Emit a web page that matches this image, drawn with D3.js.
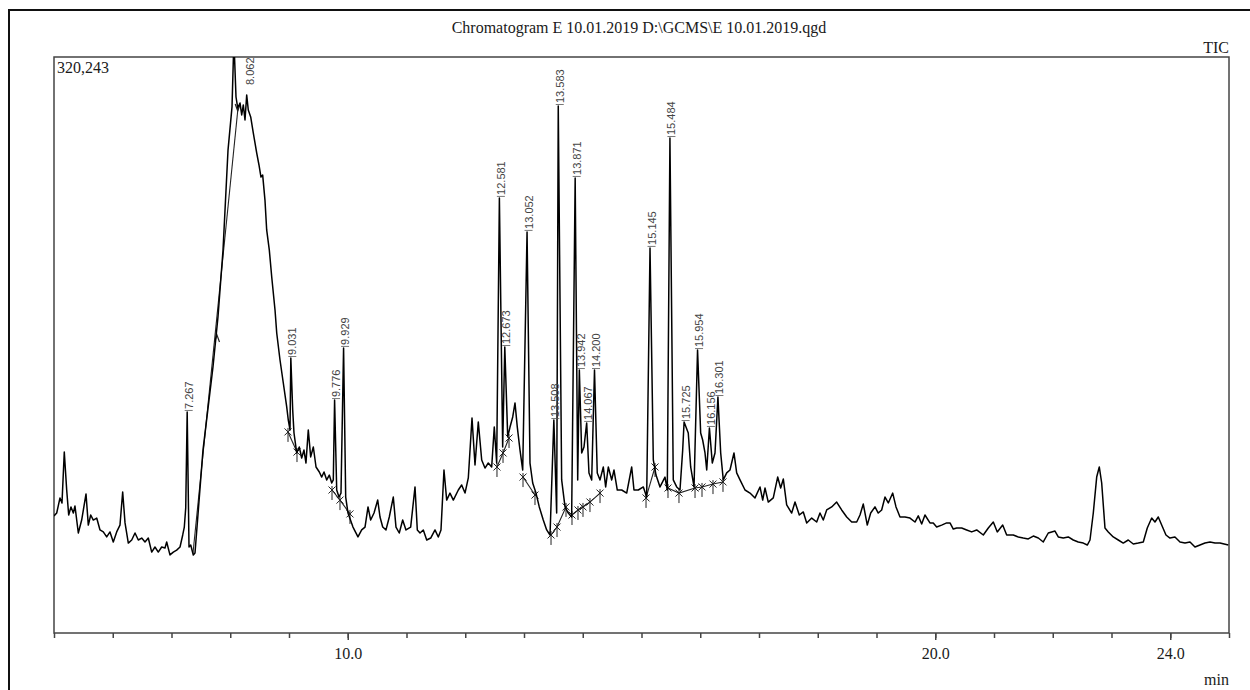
<!DOCTYPE html>
<html>
<head>
<meta charset="utf-8">
<script src="https://cdn.jsdelivr.net/npm/d3@7"></script>
<style>
body{margin:0;background:#fff;}
svg{display:block;}
</style>
</head>
<body>
<script>
// TIC trace: [retention time (min), intensity (x1000 counts)]
const trace = [
[5.000,65.1],[5.046,66.7],[5.102,75.1],[5.136,72.3],[5.175,100.6],[5.216,79.5],[5.250,65.6],[5.289,70.1],[5.329,66.7],[5.357,70.6],
[5.414,55.6],[5.471,62.8],[5.545,77.3],[5.584,60.0],[5.625,65.6],[5.669,62.8],[5.727,63.9],[5.783,57.3],[5.839,56.2],[5.897,53.4],
[5.953,56.2],[6.009,50.6],[6.067,56.2],[6.123,60.0],[6.169,78.4],[6.209,61.2],[6.265,50.0],[6.323,51.7],[6.379,55.6],[6.435,51.7],
[6.493,52.8],[6.549,50.6],[6.605,52.8],[6.663,45.0],[6.719,47.8],[6.775,45.0],[6.833,47.8],[6.889,47.3],[6.918,50.6],[6.974,43.4],
[7.031,45.0],[7.088,46.1],[7.145,47.8],[7.191,54.5],[7.218,58.9],[7.242,69.5],[7.267,122.9],[7.298,47.8],[7.327,48.9],[7.371,43.4],
[7.400,44.5],[7.536,101.7],[7.706,147.9],[7.791,175.7],[7.877,212.9],[7.962,268.5],[8.030,292.5],[8.062,329.7],[8.098,298.0],[8.127,291.9],
[8.166,294.7],[8.195,288.0],[8.222,293.6],[8.251,285.2],[8.280,299.1],[8.307,290.8],[8.348,286.9],[8.392,278.0],[8.450,266.9],[8.489,260.2],
[8.523,253.5],[8.552,254.6],[8.591,240.7],[8.620,224.1],[8.665,212.9],[8.706,197.9],[8.762,179.6],[8.791,166.8],[8.847,151.8],[8.903,139.0],
[8.961,125.7],[8.988,118.4],[9.017,112.9],[9.031,152.9],[9.063,124.0],[9.085,111.2],[9.131,100.1],[9.175,103.4],[9.216,97.3],[9.255,101.7],
[9.289,94.5],[9.328,112.9],[9.369,97.9],[9.414,103.4],[9.460,92.3],[9.516,89.5],[9.557,86.7],[9.596,89.5],[9.642,85.1],[9.686,87.8],
[9.727,83.4],[9.754,85.1],[9.776,129.5],[9.812,79.5],[9.851,75.6],[9.885,77.8],[9.929,158.5],[9.965,75.6],[10.004,66.7],[10.089,58.9],
[10.174,53.4],[10.237,57.3],[10.294,58.9],[10.345,70.1],[10.390,62.8],[10.447,66.7],[10.510,73.9],[10.549,64.5],[10.595,58.9],[10.651,57.3],
[10.707,64.5],[10.775,75.6],[10.821,58.9],[10.877,55.6],[10.935,62.8],[10.991,57.3],[11.071,58.9],[11.145,81.2],[11.184,57.3],[11.230,55.6],
[11.286,57.3],[11.344,51.7],[11.412,52.8],[11.485,57.3],[11.541,53.4],[11.587,57.3],[11.638,90.6],[11.684,73.9],[11.740,77.8],[11.797,73.9],
[11.882,79.5],[11.939,82.3],[11.996,77.8],[12.052,86.2],[12.115,119.5],[12.166,93.4],[12.222,117.3],[12.280,96.2],[12.336,91.7],[12.392,94.5],
[12.450,92.3],[12.494,114.5],[12.535,94.5],[12.581,241.9],[12.637,103.4],[12.673,159.0],[12.723,109.0],[12.762,114.5],[12.808,120.1],[12.847,127.9],
[12.886,114.5],[12.932,101.7],[12.978,90.6],[13.052,223.0],[13.102,94.5],[13.148,83.4],[13.204,77.8],[13.260,70.1],[13.328,62.8],[13.386,57.3],
[13.443,54.5],[13.508,118.4],[13.556,66.7],[13.583,293.0],[13.641,85.1],[13.698,70.1],[13.754,66.7],[13.811,64.5],[13.871,253.0],[13.914,85.1],
[13.942,146.2],[13.982,100.1],[14.021,103.4],[14.067,116.8],[14.106,89.0],[14.152,85.1],[14.200,146.2],[14.247,89.0],[14.294,85.1],[14.350,92.3],
[14.390,81.2],[14.435,92.3],[14.493,85.1],[14.532,90.6],[14.588,79.5],[14.663,79.5],[14.748,77.8],[14.833,92.3],[14.872,79.5],[14.946,79.5],
[15.031,81.2],[15.088,75.6],[15.145,214.1],[15.201,96.2],[15.247,87.8],[15.315,81.2],[15.400,86.7],[15.439,79.5],[15.484,275.2],[15.541,85.1],
[15.599,81.2],[15.655,79.5],[15.701,101.7],[15.725,117.3],[15.796,111.2],[15.837,92.3],[15.894,81.2],[15.954,157.3],[16.007,111.2],[16.041,107.3],
[16.081,100.1],[16.110,90.6],[16.156,114.0],[16.205,94.5],[16.251,100.1],[16.301,131.2],[16.348,100.1],[16.392,85.1],[16.450,89.0],[16.506,90.6],
[16.574,100.1],[16.620,89.0],[16.677,85.1],[16.762,79.5],[16.847,77.8],[16.932,75.1],[17.017,81.2],[17.063,73.9],[17.102,80.6],[17.158,72.8],
[17.243,75.1],[17.318,86.7],[17.369,80.6],[17.414,85.6],[17.471,71.2],[17.556,66.7],[17.613,72.8],[17.686,65.6],[17.754,67.3],[17.812,61.2],
[17.897,63.9],[17.982,61.7],[18.038,66.7],[18.094,62.8],[18.152,68.4],[18.237,70.1],[18.322,72.8],[18.407,68.4],[18.493,64.5],[18.578,61.7],
[18.663,61.7],[18.719,65.6],[18.775,71.7],[18.843,60.0],[18.901,66.7],[18.974,70.1],[19.030,66.7],[19.088,68.4],[19.145,75.6],[19.201,72.3],
[19.276,77.8],[19.332,70.1],[19.400,64.5],[19.485,64.5],[19.570,63.9],[19.655,61.7],[19.711,65.1],[19.769,60.6],[19.825,65.6],[19.910,61.2],
[19.966,61.2],[20.024,58.9],[20.109,60.0],[20.194,61.2],[20.251,61.2],[20.307,57.8],[20.365,58.4],[20.450,58.4],[20.535,57.3],[20.620,56.2],
[20.705,57.3],[20.818,54.5],[20.903,58.4],[20.988,61.7],[21.056,56.2],[21.148,60.0],[21.216,54.5],[21.328,54.5],[21.413,53.4],[21.498,52.8],
[21.583,52.3],[21.669,53.9],[21.754,52.8],[21.839,50.6],[21.924,55.6],[21.982,56.2],[22.038,56.7],[22.094,53.4],[22.179,52.8],[22.264,53.4],
[22.349,51.7],[22.434,50.6],[22.520,50.0],[22.588,48.9],[22.634,51.7],[22.690,66.7],[22.748,86.7],[22.792,92.3],[22.833,83.4],[22.889,58.4],
[22.945,56.2],[23.030,53.4],[23.115,51.7],[23.200,50.0],[23.285,51.7],[23.371,49.5],[23.456,50.0],[23.541,50.6],[23.609,58.4],[23.684,63.9],
[23.740,61.7],[23.796,64.5],[23.854,60.0],[23.927,54.5],[23.995,52.8],[24.080,53.4],[24.166,50.6],[24.251,50.0],[24.336,50.6],[24.421,47.8],
[24.506,48.9],[24.591,50.0],[24.677,50.6],[24.762,50.0],[24.847,50.0],[24.988,48.9]
];

// labelled peaks
const peakTimes = [7.267, 8.062, 9.031, 9.776, 9.929, 12.581, 12.673, 13.052, 13.508, 13.583,
                   13.871, 13.942, 14.067, 14.200, 15.145, 15.484, 15.725, 15.954, 16.156, 16.301];
const peakHeights = [122.9, 329.7, 152.9, 129.5, 158.5, 241.9, 159.0, 223.0, 118.4, 293.0,
                     253.0, 146.2, 116.8, 146.2, 214.1, 275.2, 117.3, 157.3, 114.0, 131.2];

// integration baselines (time, intensity)
const baseTimes = [
  [7.366, 8.132],
  [8.983, 9.136],
  [9.732, 9.868, 10.038],
  [12.540, 12.643, 12.745],
  [12.983, 13.187],
  [13.460, 13.562, 13.715],
  [13.817, 13.919, 14.004, 14.123, 14.294],
  [15.077, 15.230],
  [15.451, 15.638, 15.911, 16.030, 16.217, 16.387]
];
const baseCounts = [
  [44.5, 291.9],
  [111.8, 100.6],
  [79.5, 73.9, 66.2],
  [92.3, 100.1, 108.4],
  [86.7, 76.7],
  [54.5, 58.9, 70.1],
  [65.6, 68.4, 70.1, 72.8, 77.8],
  [75.1, 92.3],
  [80.6, 77.8, 80.6, 81.2, 82.8, 84.0]
];
const arrowTimes = [7.774, 8.127];
const arrowCounts = [164.0, 291.9];

const minorTicks = d3.range(5, 26, 1);
const majorTicks = [10, 20, 24];
const yMax = 320.243;
const title = "Chromatogram E 10.01.2019 D:\\GCMS\\E 10.01.2019.qgd";

const serif = '"Liberation Serif","Times New Roman",Tinos,"DejaVu Serif",serif';
const W = 1250, H = 690;
const padL = 54, padR = 1229, padT = 57, padB = 633;

const svg = d3.select('body').append('svg').attr('width', W).attr('height', H);

// outer frame (runs off the page right and bottom)
svg.append('rect').attr('x', 9).attr('y', 10).attr('width', 1300).attr('height', 800)
  .attr('fill', 'none').attr('stroke', '#111').attr('stroke-width', 2);

let addText = (tx, ty, anchor, s) => svg.append('text').attr('x', tx).attr('y', ty)
  .attr('text-anchor', anchor).attr('font-family', serif).attr('font-size', 16)
  .attr('fill', '#1a1a1a').text(s);

addText(639, 33, 'middle', title);
addText(padR, 53, 'end', 'TIC');
addText(padR, 685, 'end', 'min');
addText(padL + 3, 73, 'start', d3.format(',')(Math.round(yMax * 1000)));

let x = d3.scaleLinear().domain([5, 25]).range([padL, padR]);
let y = d3.scaleLinear().domain([0, yMax]).range([padB, padT]);

svg.append('clipPath').attr('id', 'plot').append('rect')
  .attr('x', padL).attr('y', padT).attr('width', padR - padL).attr('height', padB - padT);

// axes
let axisMinor = d3.axisBottom(x).tickValues(minorTicks).tickSize(5).tickSizeOuter(0).tickFormat('');
let axisMajor = d3.axisBottom(x).tickValues(majorTicks).tickSize(7).tickSizeOuter(0).tickPadding(8)
  .tickFormat(d3.format('.1f'));
let gMinor = svg.append('g').attr('transform', `translate(0,${padB})`).call(axisMinor);
let gMajor = svg.append('g').attr('transform', `translate(0,${padB})`).call(axisMajor);
[gMinor, gMajor].forEach(g => {
  g.select('.domain').remove();
  g.selectAll('line').attr('stroke', '#444').attr('stroke-width', 1.5);
});
gMajor.attr('font-family', serif).attr('font-size', 16);
gMajor.selectAll('text').attr('fill', '#1a1a1a');

// plot box
svg.append('rect').attr('x', padL).attr('y', padT).attr('width', padR - padL).attr('height', padB - padT)
  .attr('fill', 'none').attr('stroke', '#444').attr('stroke-width', 1.5);

let plot = svg.append('g').attr('clip-path', 'url(#plot)');

// integration baselines
let line = d3.line().x(d => x(d[0])).y(d => y(d[1]));
baseTimes.forEach((ts, i) => {
  let pts = ts.map((t, j) => [t, baseCounts[i][j]]);
  plot.append('path').attr('d', line(pts)).attr('fill', 'none')
    .attr('stroke', '#222').attr('stroke-width', 1.1);
  if (i === 0) return;
  pts.forEach(p => {
    let cx = x(p[0]), cy = y(p[1]);
    plot.append('path')
      .attr('d', `M${cx-3.5},${cy-3.5}L${cx+3.5},${cy+3.5}M${cx+3.5},${cy-3.5}L${cx-3.5},${cy+3.5}M${cx},${cy-4}L${cx},${cy+10}`)
      .attr('stroke', '#222').attr('stroke-width', 1).attr('fill', 'none');
  });
});
arrowTimes.forEach((t, i) => {
  let cx = x(t), cy = y(arrowCounts[i]);
  let d = i === 0 ? `M${cx-2.5},${cy+4}L${cx},${cy-3}L${cx+2.5},${cy+4}` : `M${cx-2.5},${cy-4}L${cx},${cy+3}L${cx+2.5},${cy-4}`;
  plot.append('path').attr('d', d).attr('stroke', '#222').attr('stroke-width', 1.2).attr('fill', 'none');
});

// TIC trace
plot.append('path').datum(trace).attr('d', line).attr('fill', 'none')
  .attr('stroke', '#000').attr('stroke-width', 1.5).attr('stroke-linejoin', 'round');

// peak labels
let fmt = d3.format('.3f');
let labels = svg.append('g').attr('font-family', '"Liberation Sans",Arial,sans-serif')
  .attr('font-size', 11).attr('fill', '#444');
peakTimes.forEach((t, i) => {
  let clipped = peakHeights[i] >= yMax;
  let px = x(t) + (clipped ? 20 : 5.5);
  let py = clipped ? y(yMax) + 28 : y(peakHeights[i]) - 3;
  labels.append('text').attr('transform', `translate(${px},${py}) rotate(-90)`).text(fmt(t));
  if (!clipped) {
    labels.append('line').attr('x1', x(t) - 2.5).attr('x2', x(t) + 5.5)
      .attr('y1', y(peakHeights[i]) - 1.5).attr('y2', y(peakHeights[i]) - 1.5)
      .attr('stroke', '#555').attr('stroke-width', 0.8);
  }
});
</script>
</body>
</html>
